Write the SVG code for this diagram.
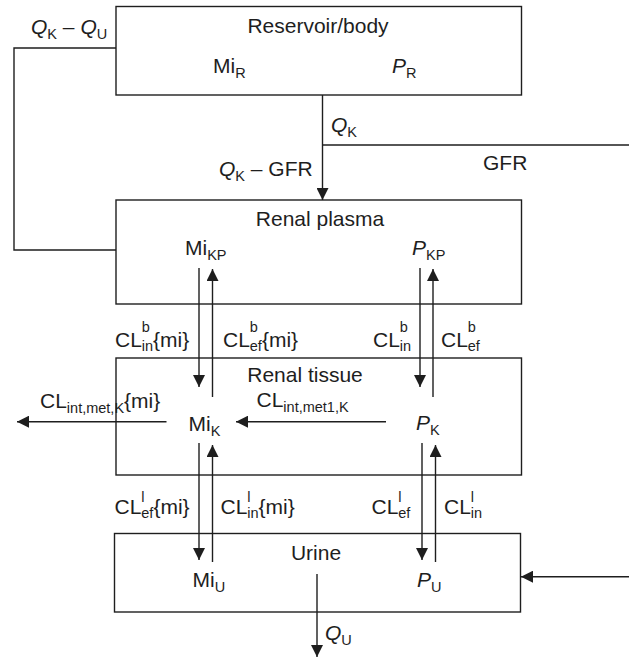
<svg xmlns="http://www.w3.org/2000/svg" width="629" height="658" viewBox="0 0 629 658">
<style>
text{font-family:"Liberation Sans",Arial,sans-serif;font-size:21px;fill:#1e1e1e}
.s{font-size:14.5px}
.i{font-style:italic}
.box{fill:#fff;stroke:#1e1e1e;stroke-width:1.4}
.ln{fill:none;stroke:#1e1e1e;stroke-width:1.4}
.ar{fill:none;stroke:#1e1e1e;stroke-width:1.4;marker-end:url(#ah)}
.mid{text-anchor:middle}
</style>
<defs>
<marker id="ah" viewBox="0 0 12 12" refX="12" refY="6" markerWidth="12" markerHeight="12" markerUnits="userSpaceOnUse" orient="auto">
<path d="M0,0 L12,6 L0,12 Z" fill="#1e1e1e"/>
</marker>
</defs>
<g id="reservoir">
<rect class="box" x="116" y="6.5" width="405.5" height="88.5"/>
<text class="mid" x="318" y="33">Reservoir/body</text>
<text x="213" y="73">Mi<tspan class="s" dy="4.5">R</tspan></text>
<text x="392" y="73"><tspan class="i">P</tspan><tspan class="s" dy="4.5">R</tspan></text>
</g>
<g id="renal-plasma">
<rect class="box" x="116" y="200" width="405.5" height="104"/>
<text class="mid" x="320" y="226">Renal plasma</text>
<text x="185" y="255">Mi<tspan class="s" dy="4.5">KP</tspan></text>
<text x="412" y="255"><tspan class="i">P</tspan><tspan class="s" dy="4.5">KP</tspan></text>
</g>
<g id="renal-tissue">
<rect class="box" x="116" y="358" width="405.5" height="117"/>
<text class="mid" x="305" y="382">Renal tissue</text>
<text x="188.5" y="431">Mi<tspan class="s" dy="4.5">K</tspan></text>
<text x="416" y="430"><tspan class="i">P</tspan><tspan class="s" dy="4.5">K</tspan></text>
</g>
<g id="urine">
<rect class="box" x="114.5" y="533.5" width="406" height="78.5"/>
<text class="mid" x="316" y="560">Urine</text>
<text x="192.5" y="587">Mi<tspan class="s" dy="4.5">U</tspan></text>
<text x="417" y="587"><tspan class="i">P</tspan><tspan class="s" dy="4.5">U</tspan></text>
</g>
<g id="connectors">
<polyline class="ln" points="116,48 14,48 14,250 116,250"/>
<text x="31" y="34"><tspan class="i">Q</tspan><tspan class="s" dy="4.5">K</tspan><tspan dy="-4.5"> – </tspan><tspan class="i">Q</tspan><tspan class="s" dy="4.5">U</tspan></text>
<line class="ar" x1="322.5" y1="95" x2="322.5" y2="200"/>
<text x="331" y="132"><tspan class="i">Q</tspan><tspan class="s" dy="4.5">K</tspan></text>
<line class="ln" x1="322.5" y1="145" x2="629" y2="145"/>
<text x="483" y="170">GFR</text>
<text x="219" y="176"><tspan class="i">Q</tspan><tspan class="s" dy="4.5">K</tspan><tspan dy="-4.5"> – GFR</tspan></text>
<line class="ar" x1="199" y1="268" x2="199" y2="387"/>
<line class="ar" x1="212.5" y1="397" x2="212.5" y2="269"/>
<line class="ar" x1="420" y1="268" x2="420" y2="387"/>
<line class="ar" x1="433" y1="397" x2="433" y2="269"/>
<text x="115" y="346.5">CL<tspan class="s" dy="-15">b</tspan><tspan class="s" x="141.8" dy="19">in</tspan><tspan dy="-4">{mi}</tspan></text>
<text x="223" y="346.5">CL<tspan class="s" dy="-15">b</tspan><tspan class="s" x="249.8" dy="19">ef</tspan><tspan dy="-4">{mi}</tspan></text>
<text x="373" y="346.5">CL<tspan class="s" dy="-15">b</tspan><tspan class="s" x="399.8" dy="19">in</tspan></text>
<text x="441" y="346.5">CL<tspan class="s" dy="-15">b</tspan><tspan class="s" x="467.8" dy="19">ef</tspan></text>
<line class="ar" x1="166.5" y1="421.7" x2="17" y2="421.7"/>
<text x="40" y="408">CL<tspan class="s" dy="4.5">int,met,K</tspan><tspan dy="-4.5">{mi}</tspan></text>
<line class="ar" x1="386" y1="421.7" x2="236" y2="421.7"/>
<text x="256.5" y="407">CL<tspan class="s" dy="4.5">int,met1,K</tspan></text>
<line class="ar" x1="199" y1="443" x2="199" y2="560"/>
<line class="ar" x1="212.5" y1="562" x2="212.5" y2="445"/>
<line class="ar" x1="422" y1="443" x2="422" y2="560"/>
<line class="ar" x1="435.5" y1="562" x2="435.5" y2="445"/>
<text x="114.5" y="514">CL<tspan class="s" dy="-12">l</tspan><tspan class="s" x="141.3" dy="16">ef</tspan><tspan dy="-4">{mi}</tspan></text>
<text x="220.5" y="514">CL<tspan class="s" dy="-12">l</tspan><tspan class="s" x="247.3" dy="16">in</tspan><tspan dy="-4">{mi}</tspan></text>
<text x="371.5" y="514">CL<tspan class="s" dy="-12">l</tspan><tspan class="s" x="398.3" dy="16">ef</tspan></text>
<text x="444" y="514">CL<tspan class="s" dy="-12">l</tspan><tspan class="s" x="470.8" dy="16">in</tspan></text>
<line class="ar" x1="317" y1="574" x2="317" y2="657"/>
<text x="325" y="640"><tspan class="i">Q</tspan><tspan class="s" dy="4.5">U</tspan></text>
<line class="ar" x1="629" y1="576.7" x2="521" y2="576.7"/>
</g>
</svg>
